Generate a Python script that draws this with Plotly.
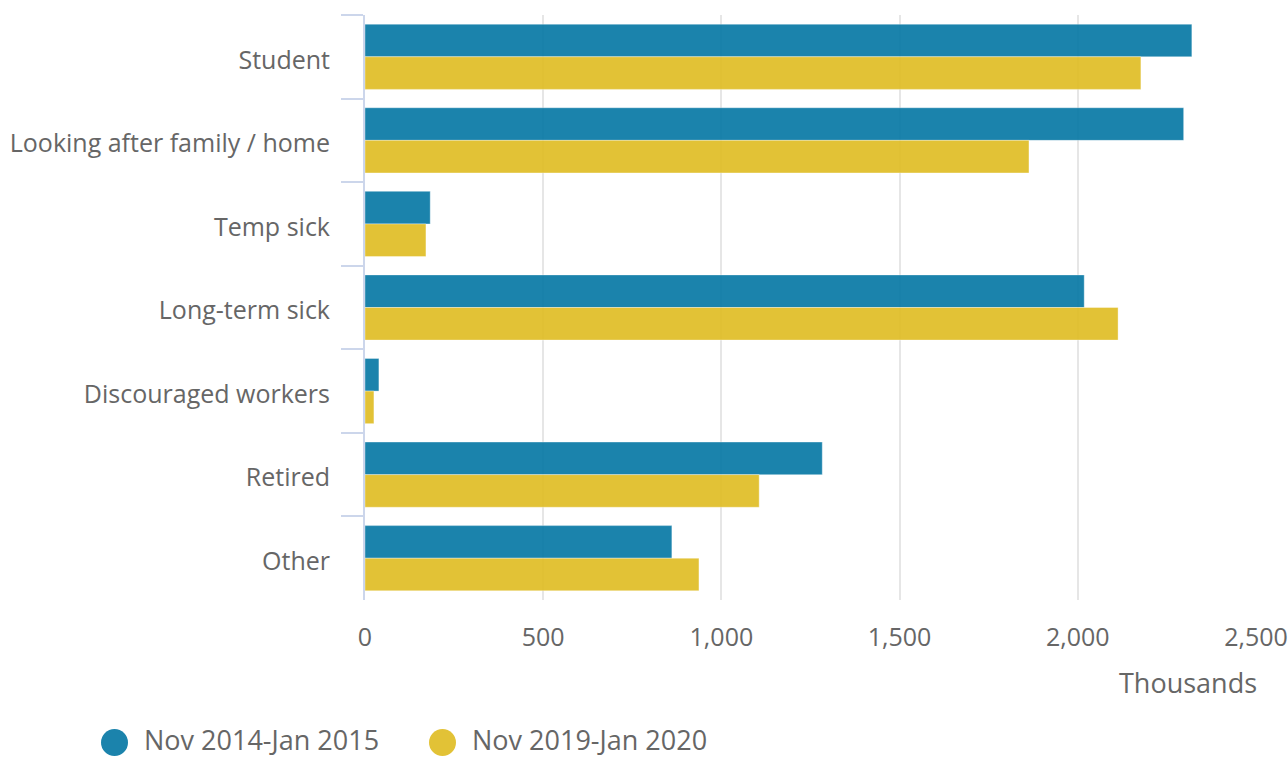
import plotly.graph_objects as go

categories = ["Student", "Looking after family / home", "Temp sick", "Long-term sick",
              "Discouraged workers", "Retired", "Other"]
series_names = ["Nov 2014-Jan 2015", "Nov 2019-Jan 2020"]
values_2015 = [2320, 2297, 183, 2018, 39, 1283, 861]
values_2020 = [2177, 1863, 171, 2113, 25, 1106, 937]
x_ticks = [0, 500, 1000, 1500, 2000, 2500]
x_tick_labels = ["0", "500", "1,000", "1,500", "2,000", "2,500"]
axis_title = "Thousands"

colors = ["rgba(2,118,163,0.9)", "rgba(223,187,32,0.9)"]
font_family = "Open Sans"
text_color = "#666666"
fs = 25
fs_big = 27

fig = go.Figure()
for name, vals, col in zip(series_names, [values_2015, values_2020], colors):
    fig.add_trace(go.Bar(
        y=categories, x=vals, name=name, orientation="h",
        marker=dict(color=col, line=dict(color="rgba(255,255,255,0.35)", width=1)),
        showlegend=False,
    ))

# legend drawn manually (large circles)
legend_x = [100, 428]
for i, (name, col) in enumerate(zip(series_names, colors)):
    fig.add_shape(type="circle", xref="paper", yref="paper",
                  xsizemode="pixel", ysizemode="pixel",
                  xanchor=0, yanchor=0,
                  x0=legend_x[i] - 364, x1=legend_x[i] - 364 + 27,
                  y0=-(729 - 600) - 27, y1=-(729 - 600),
                  fillcolor=col, line=dict(width=0))
    fig.add_annotation(text=name, xref="paper", yref="paper", x=0, y=0,
                       xanchor="left", yanchor="middle", borderpad=0,
                       xshift=legend_x[i] - 364 + 42, yshift=-(739 - 600),
                       showarrow=False, font=dict(size=fs_big, color=text_color, family=font_family))

fig.add_annotation(text=axis_title, xref="paper", yref="paper", x=1, y=0,
                   xanchor="right", yanchor="middle", yshift=-(682 - 600), xshift=3,
                   showarrow=False, font=dict(size=fs_big, color=text_color, family=font_family))

fig.update_layout(
    width=1288, height=758,
    margin=dict(l=365, r=32, t=15, b=158),
    paper_bgcolor="white", plot_bgcolor="white",
    barmode="group", bargap=0.22, bargroupgap=0,
    font=dict(family=font_family, size=fs, color=text_color),
    showlegend=False,
)
fig.update_xaxes(range=[0, 2500], tickvals=x_ticks, ticktext=x_tick_labels,
                 showgrid=True, gridcolor="#e6e6e6", gridwidth=2,
                 zeroline=False, showline=False, ticks="", automargin=False,
                 ticklabelstandoff=20,
                 tickfont=dict(size=fs, color=text_color, family=font_family))
fig.update_yaxes(autorange="reversed", showline=True, linecolor="#ccd6eb", linewidth=2,
                 ticks="outside", tickson="boundaries", ticklen=22, tickwidth=2,
                 tickcolor="#ccd6eb", showgrid=False, ticklabelstandoff=28, automargin=False,
                 ticklabelshift=-3,
                 tickfont=dict(size=fs, color=text_color, family=font_family))

fig.write_html("out.html", config={"displayModeBar": False},
               post_script="document.body.style.margin='0';document.body.style.overflow='hidden';")
